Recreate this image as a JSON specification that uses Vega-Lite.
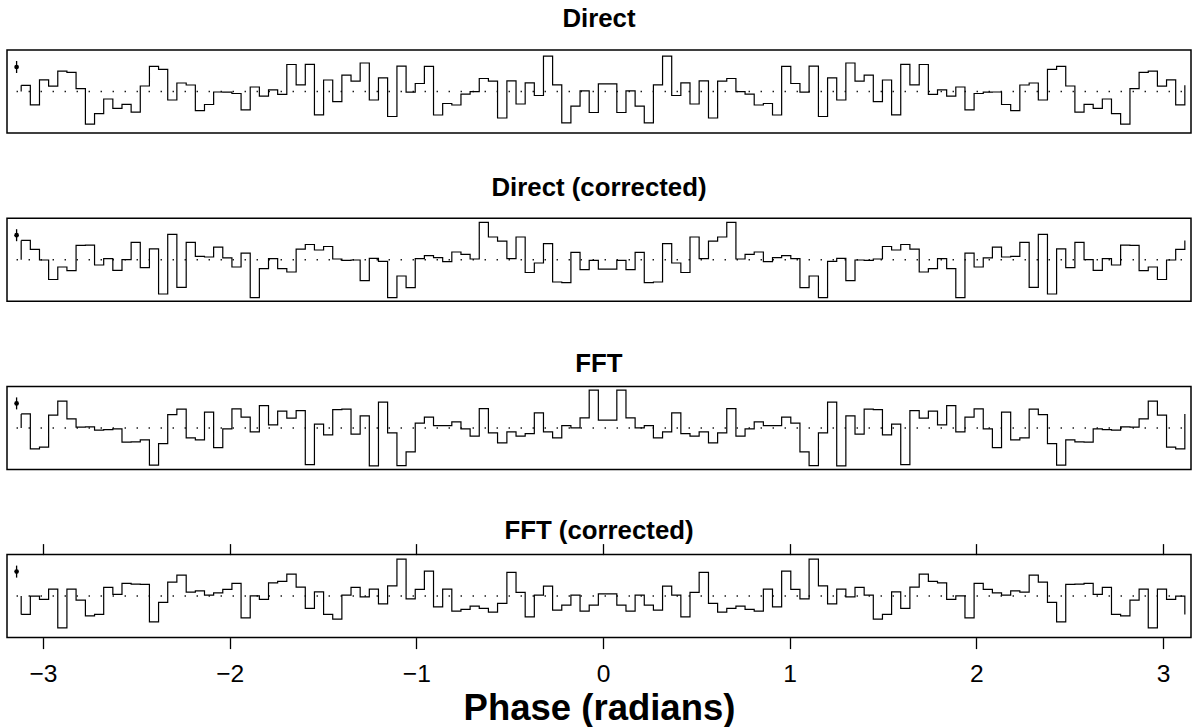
{
  "$schema": "https://vega.github.io/schema/vega-lite/v6.json",
  "padding": {"left": 6, "top": 5, "right": 0, "bottom": 0},
  "config": {
    "font": "Liberation Sans",
    "view": {"stroke": "black", "strokeWidth": 1.5},
    "title": {"fontSize": 25.8, "fontWeight": "bold", "color": "black", "baseline": "alphabetic", "frame": "group"},
    "axis": {"domain": false, "grid": false, "tickColor": "black", "tickWidth": 1.3, "tickSize": 11, "labelFontSize": 24.6, "labelColor": "black", "labelPadding": 14, "titleFontSize": 36.5, "titleFontWeight": "bold", "titleColor": "black", "titlePadding": 4.5}
  },
  "datasets": {
    "hist": [
      {"phase": -3.117, "direct": 106.2, "directCorr": 119.3, "fft": 114, "fftCorr": 81.7},
      {"phase": -3.068, "direct": 86.7, "directCorr": 110.3, "fft": 79, "fftCorr": 100},
      {"phase": -3.019, "direct": 111.7, "directCorr": 99.7, "fft": 80.7, "fftCorr": 96.7},
      {"phase": -2.970, "direct": 105.3, "directCorr": 80.2, "fft": 112.7, "fftCorr": 107},
      {"phase": -2.921, "direct": 120.3, "directCorr": 92.7, "fft": 126.7, "fftCorr": 68.3},
      {"phase": -2.872, "direct": 119.2, "directCorr": 89, "fft": 109, "fftCorr": 107},
      {"phase": -2.823, "direct": 102.8, "directCorr": 114.3, "fft": 100.8, "fftCorr": 96},
      {"phase": -2.773, "direct": 67.3, "directCorr": 114.5, "fft": 101, "fftCorr": 80.3},
      {"phase": -2.724, "direct": 77.8, "directCorr": 94.7, "fft": 97.7, "fftCorr": 81.7},
      {"phase": -2.675, "direct": 92.5, "directCorr": 101, "fft": 98.3, "fftCorr": 108.7},
      {"phase": -2.626, "direct": 83.2, "directCorr": 89.3, "fft": 99, "fftCorr": 101.7},
      {"phase": -2.577, "direct": 87.2, "directCorr": 100, "fft": 85.7, "fftCorr": 112.7},
      {"phase": -2.528, "direct": 79.3, "directCorr": 117.3, "fft": 86, "fftCorr": 112},
      {"phase": -2.479, "direct": 105.5, "directCorr": 92, "fft": 88, "fftCorr": 111.7},
      {"phase": -2.430, "direct": 125.2, "directCorr": 110.8, "fft": 62.7, "fftCorr": 74.3},
      {"phase": -2.381, "direct": 122.2, "directCorr": 65.7, "fft": 84.3, "fftCorr": 93.7},
      {"phase": -2.332, "direct": 91.5, "directCorr": 125.3, "fft": 113.3, "fftCorr": 114},
      {"phase": -2.283, "direct": 108.5, "directCorr": 72.3, "fft": 118.7, "fftCorr": 121},
      {"phase": -2.233, "direct": 106.5, "directCorr": 117.3, "fft": 90, "fftCorr": 104},
      {"phase": -2.184, "direct": 80.8, "directCorr": 103.3, "fft": 88, "fftCorr": 105.3},
      {"phase": -2.135, "direct": 87, "directCorr": 102.7, "fft": 115.7, "fftCorr": 101},
      {"phase": -2.086, "direct": 99.5, "directCorr": 112.5, "fft": 80.3, "fftCorr": 103.3},
      {"phase": -2.037, "direct": 99.3, "directCorr": 101.8, "fft": 99, "fftCorr": 106.7},
      {"phase": -1.988, "direct": 98, "directCorr": 92.7, "fft": 119, "fftCorr": 112.7},
      {"phase": -1.939, "direct": 81.7, "directCorr": 106.5, "fft": 110.7, "fftCorr": 78.3},
      {"phase": -1.890, "direct": 104.5, "directCorr": 62, "fft": 96, "fftCorr": 100.3},
      {"phase": -1.841, "direct": 95.3, "directCorr": 91, "fft": 122.3, "fftCorr": 96.7},
      {"phase": -1.792, "direct": 101.7, "directCorr": 101, "fft": 103, "fftCorr": 113.3},
      {"phase": -1.743, "direct": 97.2, "directCorr": 91, "fft": 116.7, "fftCorr": 114.7},
      {"phase": -1.694, "direct": 127, "directCorr": 87.7, "fft": 109.7, "fftCorr": 122},
      {"phase": -1.644, "direct": 106.7, "directCorr": 110.5, "fft": 117.3, "fftCorr": 109},
      {"phase": -1.595, "direct": 127.2, "directCorr": 115.2, "fft": 63.3, "fftCorr": 87.7},
      {"phase": -1.546, "direct": 76.7, "directCorr": 109.7, "fft": 103.7, "fftCorr": 104.3},
      {"phase": -1.497, "direct": 111.5, "directCorr": 113.2, "fft": 93, "fftCorr": 81.7},
      {"phase": -1.448, "direct": 89.8, "directCorr": 100.7, "fft": 118.3, "fftCorr": 77},
      {"phase": -1.399, "direct": 116.3, "directCorr": 99.3, "fft": 118.8, "fftCorr": 101},
      {"phase": -1.350, "direct": 110.3, "directCorr": 99.7, "fft": 93.8, "fftCorr": 108.7},
      {"phase": -1.301, "direct": 128.5, "directCorr": 79, "fft": 112, "fftCorr": 99.3},
      {"phase": -1.252, "direct": 91.5, "directCorr": 101.3, "fft": 62, "fftCorr": 107},
      {"phase": -1.203, "direct": 113.7, "directCorr": 98.3, "fft": 125.7, "fftCorr": 92.3},
      {"phase": -1.154, "direct": 75, "directCorr": 62, "fft": 95, "fftCorr": 110.3},
      {"phase": -1.104, "direct": 125.3, "directCorr": 83.7, "fft": 62.3, "fftCorr": 137},
      {"phase": -1.055, "direct": 99.3, "directCorr": 72, "fft": 76, "fftCorr": 97.3},
      {"phase": -1.006, "direct": 108, "directCorr": 101, "fft": 104.7, "fftCorr": 106.7},
      {"phase": -0.957, "direct": 125.2, "directCorr": 104, "fft": 110.7, "fftCorr": 125},
      {"phase": -0.908, "direct": 76.5, "directCorr": 102, "fft": 102.3, "fftCorr": 89.3},
      {"phase": -0.859, "direct": 88, "directCorr": 98, "fft": 102.3, "fftCorr": 107},
      {"phase": -0.810, "direct": 86.5, "directCorr": 107.7, "fft": 106, "fftCorr": 85},
      {"phase": -0.761, "direct": 97.3, "directCorr": 105.3, "fft": 99, "fftCorr": 86.7},
      {"phase": -0.712, "direct": 99.8, "directCorr": 100.7, "fft": 91.7, "fftCorr": 90},
      {"phase": -0.663, "direct": 113, "directCorr": 137.3, "fft": 119.3, "fftCorr": 87.7},
      {"phase": -0.614, "direct": 110.3, "directCorr": 122.7, "fft": 95, "fftCorr": 84},
      {"phase": -0.565, "direct": 73.5, "directCorr": 118.5, "fft": 85, "fftCorr": 92.7},
      {"phase": -0.515, "direct": 110.7, "directCorr": 101, "fft": 96, "fftCorr": 123.7},
      {"phase": -0.466, "direct": 87.5, "directCorr": 122.7, "fft": 91.7, "fftCorr": 103.7},
      {"phase": -0.417, "direct": 108.7, "directCorr": 87.2, "fft": 94.3, "fftCorr": 79.3},
      {"phase": -0.368, "direct": 96, "directCorr": 96.7, "fft": 115, "fftCorr": 101},
      {"phase": -0.319, "direct": 135.3, "directCorr": 116, "fft": 96, "fftCorr": 110},
      {"phase": -0.270, "direct": 106.7, "directCorr": 77.7, "fft": 90, "fftCorr": 86},
      {"phase": -0.221, "direct": 68.7, "directCorr": 77, "fft": 102.3, "fftCorr": 91},
      {"phase": -0.172, "direct": 85.3, "directCorr": 107.3, "fft": 100, "fftCorr": 101},
      {"phase": -0.123, "direct": 100.7, "directCorr": 90, "fft": 110, "fftCorr": 85},
      {"phase": -0.074, "direct": 79, "directCorr": 99.3, "fft": 137.7, "fftCorr": 91},
      {"phase": -0.025, "direct": 107.7, "directCorr": 90.5, "fft": 107.7, "fftCorr": 102.2},
      {"phase": 0.025, "direct": 107.7, "directCorr": 90.5, "fft": 107.7, "fftCorr": 102.2},
      {"phase": 0.074, "direct": 79, "directCorr": 99.3, "fft": 137.7, "fftCorr": 91},
      {"phase": 0.123, "direct": 100.7, "directCorr": 90, "fft": 110, "fftCorr": 85},
      {"phase": 0.172, "direct": 85.3, "directCorr": 107.3, "fft": 100, "fftCorr": 101},
      {"phase": 0.221, "direct": 68.7, "directCorr": 77, "fft": 102.3, "fftCorr": 91},
      {"phase": 0.270, "direct": 106.7, "directCorr": 77.7, "fft": 90, "fftCorr": 86},
      {"phase": 0.319, "direct": 135.3, "directCorr": 116, "fft": 96, "fftCorr": 110},
      {"phase": 0.368, "direct": 96, "directCorr": 96.7, "fft": 115, "fftCorr": 101},
      {"phase": 0.417, "direct": 108.7, "directCorr": 87.2, "fft": 94.3, "fftCorr": 79.3},
      {"phase": 0.466, "direct": 87.5, "directCorr": 122.7, "fft": 91.7, "fftCorr": 103.7},
      {"phase": 0.515, "direct": 110.7, "directCorr": 101, "fft": 96, "fftCorr": 123.7},
      {"phase": 0.565, "direct": 73.5, "directCorr": 118.5, "fft": 85, "fftCorr": 92.7},
      {"phase": 0.614, "direct": 110.3, "directCorr": 122.7, "fft": 95, "fftCorr": 84},
      {"phase": 0.663, "direct": 113, "directCorr": 137.3, "fft": 119.3, "fftCorr": 87.7},
      {"phase": 0.712, "direct": 99.8, "directCorr": 100.7, "fft": 91.7, "fftCorr": 90},
      {"phase": 0.761, "direct": 97.3, "directCorr": 105.3, "fft": 99, "fftCorr": 86.7},
      {"phase": 0.810, "direct": 86.5, "directCorr": 107.7, "fft": 106, "fftCorr": 85},
      {"phase": 0.859, "direct": 88, "directCorr": 98, "fft": 102.3, "fftCorr": 107},
      {"phase": 0.908, "direct": 76.5, "directCorr": 102, "fft": 102.3, "fftCorr": 89.3},
      {"phase": 0.957, "direct": 125.2, "directCorr": 104, "fft": 110.7, "fftCorr": 125},
      {"phase": 1.006, "direct": 108, "directCorr": 101, "fft": 104.7, "fftCorr": 106.7},
      {"phase": 1.055, "direct": 99.3, "directCorr": 72, "fft": 76, "fftCorr": 97.3},
      {"phase": 1.104, "direct": 125.3, "directCorr": 83.7, "fft": 62.3, "fftCorr": 137},
      {"phase": 1.154, "direct": 75, "directCorr": 62, "fft": 95, "fftCorr": 110.3},
      {"phase": 1.203, "direct": 113.7, "directCorr": 98.3, "fft": 125.7, "fftCorr": 92.3},
      {"phase": 1.252, "direct": 91.5, "directCorr": 101.3, "fft": 62, "fftCorr": 107},
      {"phase": 1.301, "direct": 128.5, "directCorr": 79, "fft": 112, "fftCorr": 99.3},
      {"phase": 1.350, "direct": 110.3, "directCorr": 99.7, "fft": 93.8, "fftCorr": 108.7},
      {"phase": 1.399, "direct": 116.3, "directCorr": 99.3, "fft": 118.8, "fftCorr": 101},
      {"phase": 1.448, "direct": 89.8, "directCorr": 100.7, "fft": 118.3, "fftCorr": 77},
      {"phase": 1.497, "direct": 111.5, "directCorr": 113.2, "fft": 93, "fftCorr": 81.7},
      {"phase": 1.546, "direct": 76.7, "directCorr": 109.7, "fft": 103.7, "fftCorr": 104.3},
      {"phase": 1.595, "direct": 127.2, "directCorr": 115.2, "fft": 63.3, "fftCorr": 87.7},
      {"phase": 1.644, "direct": 106.7, "directCorr": 110.5, "fft": 117.3, "fftCorr": 109},
      {"phase": 1.694, "direct": 127, "directCorr": 87.7, "fft": 109.7, "fftCorr": 122},
      {"phase": 1.743, "direct": 97.2, "directCorr": 91, "fft": 116.7, "fftCorr": 114.7},
      {"phase": 1.792, "direct": 101.7, "directCorr": 101, "fft": 103, "fftCorr": 113.3},
      {"phase": 1.841, "direct": 95.3, "directCorr": 91, "fft": 122.3, "fftCorr": 96.7},
      {"phase": 1.890, "direct": 104.5, "directCorr": 62, "fft": 96, "fftCorr": 100.3},
      {"phase": 1.939, "direct": 81.7, "directCorr": 106.5, "fft": 110.7, "fftCorr": 78.3},
      {"phase": 1.988, "direct": 98, "directCorr": 92.7, "fft": 119, "fftCorr": 112.7},
      {"phase": 2.037, "direct": 99.3, "directCorr": 101.8, "fft": 99, "fftCorr": 106.7},
      {"phase": 2.086, "direct": 99.5, "directCorr": 112.5, "fft": 80.3, "fftCorr": 103.3},
      {"phase": 2.135, "direct": 87, "directCorr": 102.7, "fft": 115.7, "fftCorr": 101},
      {"phase": 2.184, "direct": 80.8, "directCorr": 103.3, "fft": 88, "fftCorr": 105.3},
      {"phase": 2.233, "direct": 106.5, "directCorr": 117.3, "fft": 90, "fftCorr": 104},
      {"phase": 2.283, "direct": 108.5, "directCorr": 72.3, "fft": 118.7, "fftCorr": 121},
      {"phase": 2.332, "direct": 91.5, "directCorr": 125.3, "fft": 113.3, "fftCorr": 114},
      {"phase": 2.381, "direct": 122.2, "directCorr": 65.7, "fft": 84.3, "fftCorr": 93.7},
      {"phase": 2.430, "direct": 125.2, "directCorr": 110.8, "fft": 62.7, "fftCorr": 74.3},
      {"phase": 2.479, "direct": 105.5, "directCorr": 92, "fft": 88, "fftCorr": 111.7},
      {"phase": 2.528, "direct": 79.3, "directCorr": 117.3, "fft": 86, "fftCorr": 112},
      {"phase": 2.577, "direct": 87.2, "directCorr": 100, "fft": 85.7, "fftCorr": 112.7},
      {"phase": 2.626, "direct": 83.2, "directCorr": 89.3, "fft": 99, "fftCorr": 101.7},
      {"phase": 2.675, "direct": 92.5, "directCorr": 101, "fft": 98.3, "fftCorr": 108.7},
      {"phase": 2.724, "direct": 77.8, "directCorr": 94.7, "fft": 97.7, "fftCorr": 81.7},
      {"phase": 2.773, "direct": 67.3, "directCorr": 114.5, "fft": 101, "fftCorr": 80.3},
      {"phase": 2.823, "direct": 102.8, "directCorr": 114.3, "fft": 100.8, "fftCorr": 96},
      {"phase": 2.872, "direct": 119.2, "directCorr": 89, "fft": 109, "fftCorr": 107},
      {"phase": 2.921, "direct": 120.3, "directCorr": 92.7, "fft": 126.7, "fftCorr": 68.3},
      {"phase": 2.970, "direct": 105.3, "directCorr": 80.2, "fft": 112.7, "fftCorr": 107},
      {"phase": 3.019, "direct": 111.7, "directCorr": 99.7, "fft": 80.7, "fftCorr": 96.7},
      {"phase": 3.068, "direct": 86.7, "directCorr": 110.3, "fft": 79, "fftCorr": 100},
      {"phase": 3.117, "direct": 106.2, "directCorr": 119.3, "fft": 114, "fftCorr": 81.7}
    ],
    "err": [
      {"phase": -3.1416, "count": 124.5, "lo": 118.5, "hi": 130.5}
    ],
    "level": [
      {"from": -3.1416, "to": 3.1416, "count": 100}
    ]
  },
  "data": {"name": "hist"},
  "bounds": "flush",
  "spacing": 85.2,
  "vconcat": [
    {
      "title": {"text": "Direct", "offset": 17.3},
      "width": 1184, "height": 83,
      "layer": [
        {"data": {"name": "level"},
         "mark": {"type": "rule", "color": "black", "strokeWidth": 1.5, "strokeDash": [1.3, 10.7], "strokeCap": "butt"},
         "encoding": {"x": {"field": "from", "type": "quantitative", "scale": {"domain": [-3.193, 3.15], "nice": false, "zero": false}, "axis": null}, "x2": {"field": "to"}, "y": {"field": "count", "type": "quantitative", "scale": {"domain": [58.5, 141.5], "nice": false, "zero": false}, "axis": null}}},
        {"mark": {"type": "line", "interpolate": "step-after", "color": "black", "strokeWidth": 1.2},
         "encoding": {"x": {"field": "phase", "type": "quantitative", "scale": {"domain": [-3.193, 3.15], "nice": false, "zero": false}, "axis": null}, "y": {"field": "direct", "type": "quantitative", "scale": {"domain": [58.5, 141.5], "nice": false, "zero": false}, "axis": null}}},
        {"transform": [{"filter": "datum.phase < -3.1"}],
         "mark": {"type": "rule", "color": "black", "strokeWidth": 1.2},
         "encoding": {"x": {"field": "phase", "type": "quantitative", "scale": {"domain": [-3.193, 3.15], "nice": false, "zero": false}, "axis": null}, "y": {"field": "direct", "type": "quantitative", "scale": {"domain": [58.5, 141.5], "nice": false, "zero": false}, "axis": null}, "y2": {"datum": 100}}},
        {"data": {"name": "err"},
         "mark": {"type": "rule", "color": "black", "strokeWidth": 1.3},
         "encoding": {"x": {"field": "phase", "type": "quantitative", "scale": {"domain": [-3.193, 3.15], "nice": false, "zero": false}, "axis": null}, "y": {"field": "lo", "type": "quantitative", "scale": {"domain": [58.5, 141.5], "nice": false, "zero": false}, "axis": null}, "y2": {"field": "hi"}}},
        {"data": {"name": "err"},
         "mark": {"type": "point", "filled": true, "color": "black", "opacity": 1, "size": 22},
         "encoding": {"x": {"field": "phase", "type": "quantitative", "scale": {"domain": [-3.193, 3.15], "nice": false, "zero": false}, "axis": null}, "y": {"field": "count", "type": "quantitative", "scale": {"domain": [58.5, 141.5], "nice": false, "zero": false}, "axis": null}}}
      ]
    },
    {
      "title": {"text": "Direct (corrected)", "offset": 16},
      "width": 1184, "height": 83,
      "layer": [
        {"data": {"name": "level"},
         "mark": {"type": "rule", "color": "black", "strokeWidth": 1.5, "strokeDash": [1.3, 10.7], "strokeCap": "butt"},
         "encoding": {"x": {"field": "from", "type": "quantitative", "scale": {"domain": [-3.193, 3.15], "nice": false, "zero": false}, "axis": null}, "x2": {"field": "to"}, "y": {"field": "count", "type": "quantitative", "scale": {"domain": [58.5, 141.5], "nice": false, "zero": false}, "axis": null}}},
        {"mark": {"type": "line", "interpolate": "step-after", "color": "black", "strokeWidth": 1.2},
         "encoding": {"x": {"field": "phase", "type": "quantitative", "scale": {"domain": [-3.193, 3.15], "nice": false, "zero": false}, "axis": null}, "y": {"field": "directCorr", "type": "quantitative", "scale": {"domain": [58.5, 141.5], "nice": false, "zero": false}, "axis": null}}},
        {"transform": [{"filter": "datum.phase < -3.1"}],
         "mark": {"type": "rule", "color": "black", "strokeWidth": 1.2},
         "encoding": {"x": {"field": "phase", "type": "quantitative", "scale": {"domain": [-3.193, 3.15], "nice": false, "zero": false}, "axis": null}, "y": {"field": "directCorr", "type": "quantitative", "scale": {"domain": [58.5, 141.5], "nice": false, "zero": false}, "axis": null}, "y2": {"datum": 100}}},
        {"data": {"name": "err"},
         "mark": {"type": "rule", "color": "black", "strokeWidth": 1.3},
         "encoding": {"x": {"field": "phase", "type": "quantitative", "scale": {"domain": [-3.193, 3.15], "nice": false, "zero": false}, "axis": null}, "y": {"field": "lo", "type": "quantitative", "scale": {"domain": [58.5, 141.5], "nice": false, "zero": false}, "axis": null}, "y2": {"field": "hi"}}},
        {"data": {"name": "err"},
         "mark": {"type": "point", "filled": true, "color": "black", "opacity": 1, "size": 22},
         "encoding": {"x": {"field": "phase", "type": "quantitative", "scale": {"domain": [-3.193, 3.15], "nice": false, "zero": false}, "axis": null}, "y": {"field": "count", "type": "quantitative", "scale": {"domain": [58.5, 141.5], "nice": false, "zero": false}, "axis": null}}}
      ]
    },
    {
      "title": {"text": "FFT", "offset": 8.7},
      "width": 1184, "height": 83,
      "layer": [
        {"data": {"name": "level"},
         "mark": {"type": "rule", "color": "black", "strokeWidth": 1.5, "strokeDash": [1.3, 10.7], "strokeCap": "butt"},
         "encoding": {"x": {"field": "from", "type": "quantitative", "scale": {"domain": [-3.193, 3.15], "nice": false, "zero": false}, "axis": null}, "x2": {"field": "to"}, "y": {"field": "count", "type": "quantitative", "scale": {"domain": [58.5, 141.5], "nice": false, "zero": false}, "axis": null}}},
        {"mark": {"type": "line", "interpolate": "step-after", "color": "black", "strokeWidth": 1.2},
         "encoding": {"x": {"field": "phase", "type": "quantitative", "scale": {"domain": [-3.193, 3.15], "nice": false, "zero": false}, "axis": null}, "y": {"field": "fft", "type": "quantitative", "scale": {"domain": [58.5, 141.5], "nice": false, "zero": false}, "axis": null}}},
        {"transform": [{"filter": "datum.phase < -3.1"}],
         "mark": {"type": "rule", "color": "black", "strokeWidth": 1.2},
         "encoding": {"x": {"field": "phase", "type": "quantitative", "scale": {"domain": [-3.193, 3.15], "nice": false, "zero": false}, "axis": null}, "y": {"field": "fft", "type": "quantitative", "scale": {"domain": [58.5, 141.5], "nice": false, "zero": false}, "axis": null}, "y2": {"datum": 100}}},
        {"data": {"name": "err"},
         "mark": {"type": "rule", "color": "black", "strokeWidth": 1.3},
         "encoding": {"x": {"field": "phase", "type": "quantitative", "scale": {"domain": [-3.193, 3.15], "nice": false, "zero": false}, "axis": null}, "y": {"field": "lo", "type": "quantitative", "scale": {"domain": [58.5, 141.5], "nice": false, "zero": false}, "axis": null}, "y2": {"field": "hi"}}},
        {"data": {"name": "err"},
         "mark": {"type": "point", "filled": true, "color": "black", "opacity": 1, "size": 22},
         "encoding": {"x": {"field": "phase", "type": "quantitative", "scale": {"domain": [-3.193, 3.15], "nice": false, "zero": false}, "axis": null}, "y": {"field": "count", "type": "quantitative", "scale": {"domain": [58.5, 141.5], "nice": false, "zero": false}, "axis": null}}}
      ]
    },
    {
      "title": {"text": "FFT (corrected)", "offset": -2},
      "width": 1184, "height": 83,
      "resolve": {"axis": {"x": "independent"}},
      "layer": [
        {"data": {"name": "level"},
         "mark": {"type": "rule", "color": "black", "strokeWidth": 1.5, "strokeDash": [1.3, 10.7], "strokeCap": "butt"},
         "encoding": {"x": {"field": "from", "type": "quantitative", "scale": {"domain": [-3.193, 3.15], "nice": false, "zero": false}, "axis": {"orient": "top", "values": [-3, -2, -1, 0, 1, 2, 3], "labels": false, "title": null}}, "x2": {"field": "to"}, "y": {"field": "count", "type": "quantitative", "scale": {"domain": [58.5, 141.5], "nice": false, "zero": false}, "axis": null}}},
        {"mark": {"type": "line", "interpolate": "step-after", "color": "black", "strokeWidth": 1.2},
         "encoding": {"x": {"field": "phase", "type": "quantitative", "scale": {"domain": [-3.193, 3.15], "nice": false, "zero": false}, "axis": {"orient": "bottom", "values": [-3, -2, -1, 0, 1, 2, 3], "format": "d", "title": "Phase (radians)"}}, "y": {"field": "fftCorr", "type": "quantitative", "scale": {"domain": [58.5, 141.5], "nice": false, "zero": false}, "axis": null}}},
        {"transform": [{"filter": "datum.phase < -3.1"}],
         "mark": {"type": "rule", "color": "black", "strokeWidth": 1.2},
         "encoding": {"x": {"field": "phase", "type": "quantitative", "scale": {"domain": [-3.193, 3.15], "nice": false, "zero": false}, "axis": null}, "y": {"field": "fftCorr", "type": "quantitative", "scale": {"domain": [58.5, 141.5], "nice": false, "zero": false}, "axis": null}, "y2": {"datum": 100}}},
        {"data": {"name": "err"},
         "mark": {"type": "rule", "color": "black", "strokeWidth": 1.3},
         "encoding": {"x": {"field": "phase", "type": "quantitative", "scale": {"domain": [-3.193, 3.15], "nice": false, "zero": false}, "axis": null}, "y": {"field": "lo", "type": "quantitative", "scale": {"domain": [58.5, 141.5], "nice": false, "zero": false}, "axis": null}, "y2": {"field": "hi"}}},
        {"data": {"name": "err"},
         "mark": {"type": "point", "filled": true, "color": "black", "opacity": 1, "size": 22},
         "encoding": {"x": {"field": "phase", "type": "quantitative", "scale": {"domain": [-3.193, 3.15], "nice": false, "zero": false}, "axis": null}, "y": {"field": "count", "type": "quantitative", "scale": {"domain": [58.5, 141.5], "nice": false, "zero": false}, "axis": null}}}
      ]
    }
  ]
}
